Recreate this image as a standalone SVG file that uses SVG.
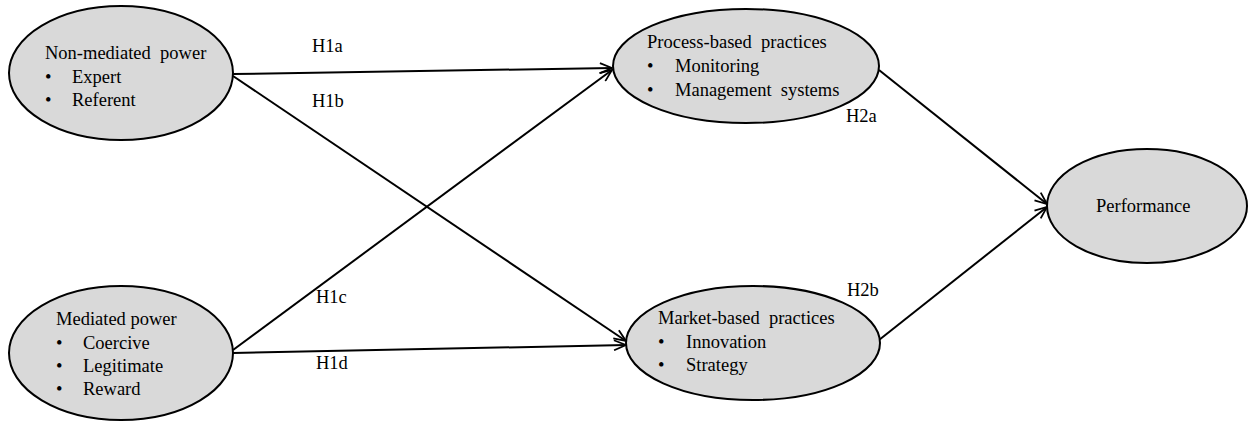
<svg xmlns="http://www.w3.org/2000/svg" width="1249" height="422" viewBox="0 0 1249 422" xml:space="preserve">
<style>
.node{fill:#d9d9d9;stroke:#000;stroke-width:2}
.t{font-family:"Liberation Serif","Times New Roman",serif;font-size:18.5px;fill:#000;white-space:pre}
.c{stroke:#000;stroke-width:2;fill:none;marker-end:url(#ah)}
</style>
<defs>
<marker id="ah" viewBox="0 0 14 12" refX="13" refY="6" markerWidth="14" markerHeight="12" markerUnits="userSpaceOnUse" orient="auto">
<path d="M1,1 L13,6 L1,11" fill="none" stroke="#000" stroke-width="1.8"/>
</marker>
</defs>
<rect width="1249" height="422" fill="#fff"/>
<g id="connectors">
<line class="c" x1="233" y1="74" x2="612" y2="68"/>
<line class="c" x1="233" y1="76" x2="626" y2="341"/>
<line class="c" x1="233" y1="350" x2="612" y2="70"/>
<line class="c" x1="233" y1="353" x2="626" y2="345"/>
<line class="c" x1="879" y1="70" x2="1047" y2="204"/>
<line class="c" x1="879" y1="340" x2="1047" y2="207"/>
<text class="t" x="312" y="52">H1a</text>
<text class="t" x="312" y="107">H1b</text>
<text class="t" x="316" y="303">H1c</text>
<text class="t" x="316" y="369">H1d</text>
<text class="t" x="846" y="122">H2a</text>
<text class="t" x="847" y="296">H2b</text>
</g>
<g id="non-mediated">
<ellipse class="node" cx="121" cy="73" rx="112" ry="67"/>
<text class="t" x="45" y="59">Non-mediated  power</text>
<text class="t" x="45" y="83">•</text><text class="t" x="72" y="83">Expert</text>
<text class="t" x="45" y="106">•</text><text class="t" x="72" y="106">Referent</text>
</g>
<g id="mediated">
<ellipse class="node" cx="121" cy="353" rx="112" ry="67"/>
<text class="t" x="56" y="325">Mediated power</text>
<text class="t" x="56" y="349">•</text><text class="t" x="83" y="349">Coercive</text>
<text class="t" x="56" y="372">•</text><text class="t" x="83" y="372">Legitimate</text>
<text class="t" x="56" y="395">•</text><text class="t" x="83" y="395">Reward</text>
</g>
<g id="process">
<ellipse class="node" cx="746" cy="66" rx="133" ry="57"/>
<text class="t" x="647" y="48">Process-based  practices</text>
<text class="t" x="647" y="72">•</text><text class="t" x="675" y="72">Monitoring</text>
<text class="t" x="647" y="96">•</text><text class="t" x="675" y="96">Management  systems</text>
</g>
<g id="market">
<ellipse class="node" cx="753" cy="343" rx="127" ry="57"/>
<text class="t" x="658" y="324">Market-based  practices</text>
<text class="t" x="658" y="348">•</text><text class="t" x="686" y="348">Innovation</text>
<text class="t" x="658" y="371">•</text><text class="t" x="686" y="371">Strategy</text>
</g>
<g id="performance">
<ellipse class="node" cx="1147" cy="206" rx="100" ry="57"/>
<text class="t" x="1096" y="212">Performance</text>
</g>
</svg>
